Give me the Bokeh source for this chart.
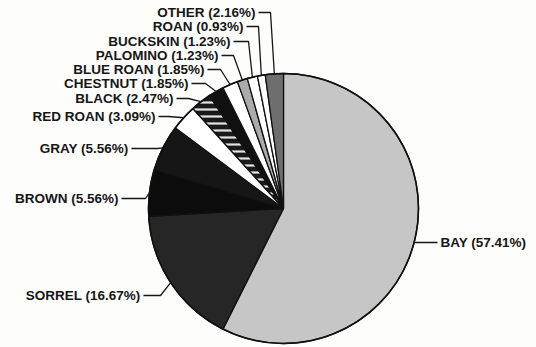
import math
from bokeh.plotting import figure
from bokeh.models import Range1d, ColumnDataSource
from bokeh.core.properties import value
from bokeh.embed import file_html
from bokeh.resources import INLINE

# ---- data ----
categories = ["BAY", "SORREL", "BROWN", "GRAY", "RED ROAN", "BLACK", "CHESTNUT",
              "BLUE ROAN", "PALOMINO", "BUCKSKIN", "ROAN", "OTHER"]
percents = [57.41, 16.67, 5.56, 5.56, 3.09, 2.47, 1.85, 1.85, 1.23, 1.23, 0.93, 2.16]

# ---- styling ----
fills = ["#c6c6c6", "#262626", "#0c0c0c", "#161616", "#ffffff", "#1a1a1a", "#101010",
         "#ffffff", "#ababab", "#ffffff", "#ffffff", "#6e6e6e"]
hatches = [" ", " ", " ", " ", " ", "horizontal_line", " ", " ", " ", " ", " ", " "]

W, H = 536, 347

def X(px):
    return px

def Y(py):
    return H - py

# layout (page pixel positions): label anchor x, label y, elbow x
label_layout = {
    "OTHER":     (255, 12, 270),
    "ROAN":      (243, 26, 258),
    "BUCKSKIN":  (230, 41, 248),
    "PALOMINO":  (218, 55, 233),
    "BLUE ROAN": (204, 69, 220),
    "CHESTNUT":  (188, 83, 205),
    "BLACK":     (173, 98, 188),
    "RED ROAN":  (155, 116, 168),
    "GRAY":      (128, 148, 157),
    "BROWN":     (118, 198, 145),
    "SORREL":    (140, 295, 160),
    "BAY":       (440, 242, 437),
}

cx, cy, R = X(283), Y(208), 135

total = sum(percents)
starts, ends, mids = [], [], []
cum = 0.0
for v in percents:
    a0 = math.pi / 2 - 2 * math.pi * cum / total
    cum += v
    a1 = math.pi / 2 - 2 * math.pi * cum / total
    starts.append(a0)
    ends.append(a1)
    mids.append((a0 + a1) / 2)

p = figure(width=W, height=H, output_backend="svg", toolbar_location=None,
           x_range=Range1d(0, W), y_range=Range1d(0, H), min_border=0)
p.axis.visible = False
p.grid.visible = False
p.outline_line_color = None
p.background_fill_color = "#fdfdfc"
p.border_fill_color = "#fdfdfc"

src = ColumnDataSource(dict(start=starts, end=ends, fill=fills, hatch=hatches))
p.wedge(x=cx, y=cy, radius=R, start_angle="start", end_angle="end", direction="clock",
        fill_color="fill", line_color="#111111", line_width=1.3,
        hatch_pattern="hatch", hatch_color="#e4e4e4", hatch_scale=7, hatch_weight=2.2,
        source=src)
# outer rim
p.circle(x=cx, y=cy, radius=R, fill_color=None, line_color="#111111", line_width=1.6)

# leader lines and labels
lx, ly, ltxt = [], [], []
for cat, pct, m in zip(categories, percents, mids):
    ax, ay, ex = label_layout[cat]
    edge_x = cx + R * math.cos(m)
    edge_y = cy + R * math.sin(m)
    if cat == "BAY":
        xs = [edge_x, X(ex)]
        ys = [Y(ay), Y(ay)]
        p.text(x=[X(ax)], y=[Y(ay)], text=[f"{cat} ({pct:.2f}%)"],
               text_align="left", text_baseline="middle",
               text_font=value("Liberation Sans"), text_font_style="bold",
               text_font_size="13.5px", text_color="#161616")
    else:
        xs = [X(ax + 3), X(ex), edge_x]
        ys = [Y(ay), Y(ay), edge_y]
        lx.append(X(ax)); ly.append(Y(ay)); ltxt.append(f"{cat} ({pct:.2f}%)")
    p.line(xs, ys, line_color="#161616", line_width=1.3)

p.text(x=lx, y=ly, text=ltxt, text_align="right", text_baseline="middle",
       text_font=value("Liberation Sans"), text_font_style="bold",
       text_font_size="13.5px", text_color="#161616")

open("out.html", "w").write(file_html(p, INLINE))
